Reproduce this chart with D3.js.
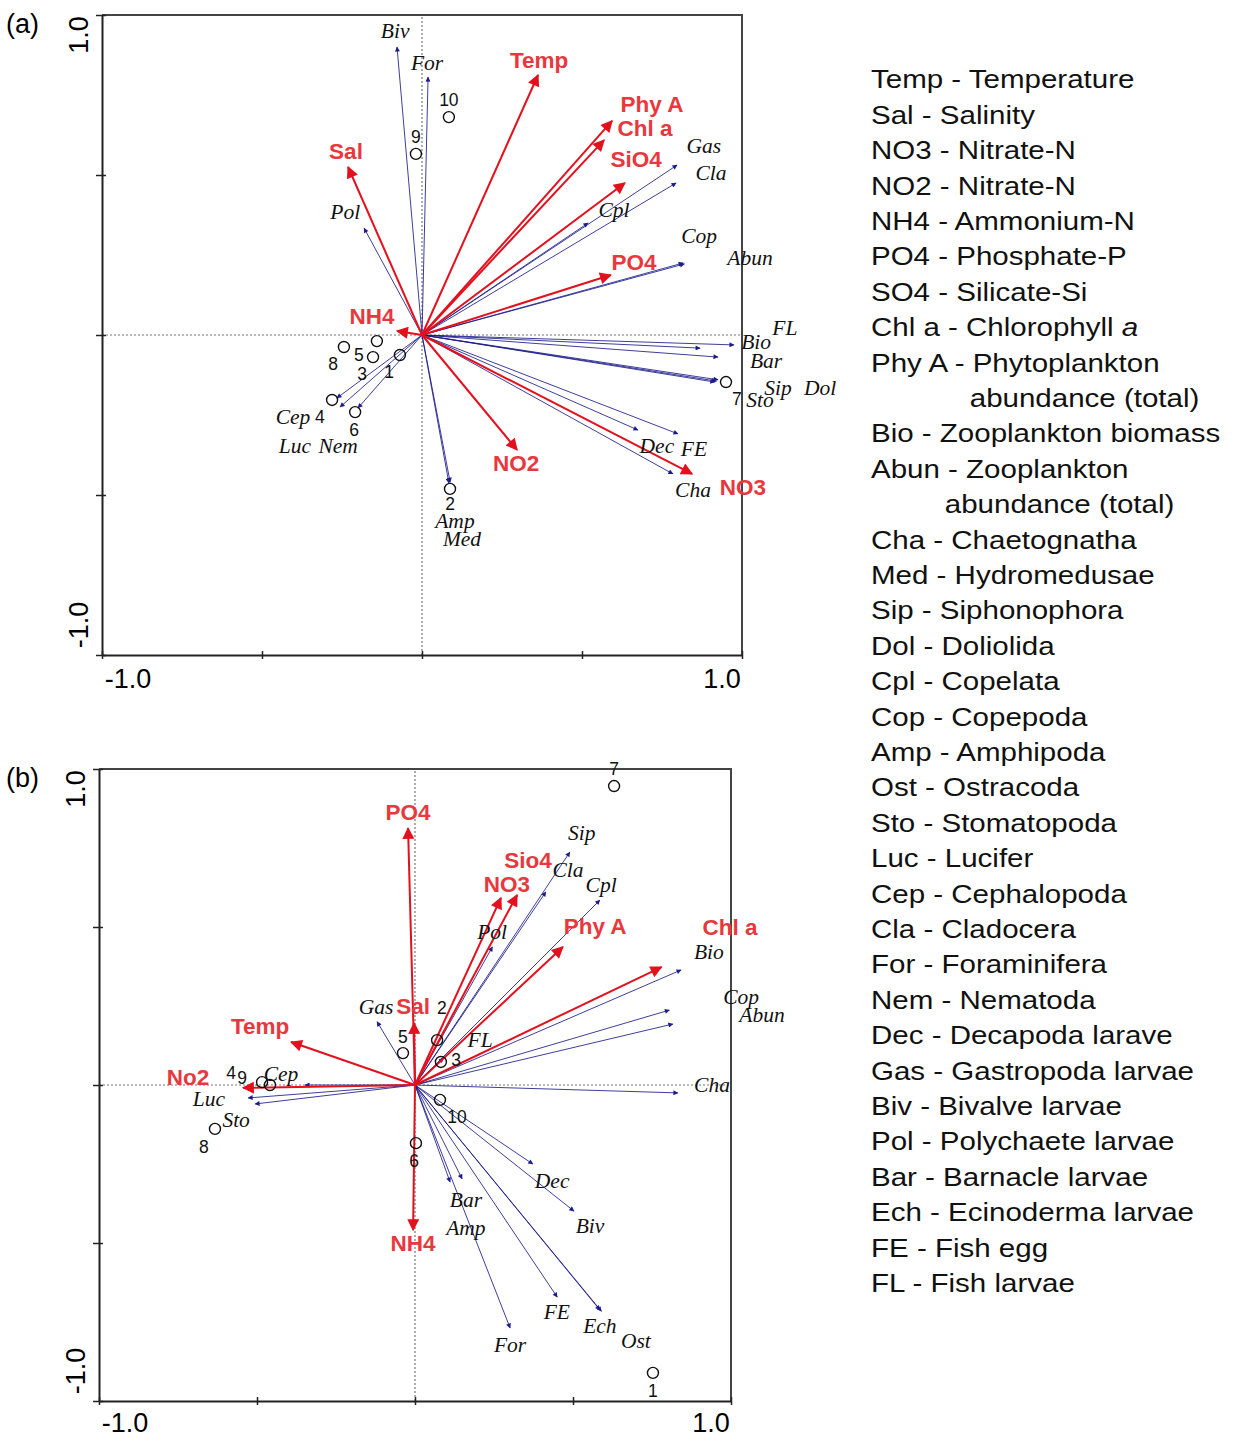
<!DOCTYPE html>
<html>
<head>
<meta charset="utf-8">
<script src="https://cdn.jsdelivr.net/npm/d3@7"></script>
<style>
  body { margin: 0; background: #fff; }
  svg { display: block; }
</style>
</head>
<body>
<svg id="chart" width="1234" height="1438"></svg>
<script>
// ---- panel (a) ----
// [name, x, y, labelX, labelY]  (CCA axis units)
var envA = [
  ["Temp", 0.3625, 0.8125, 0.366, 0.859],
  ["Phy A", 0.594, 0.669, 0.719, 0.719],
  ["Chl a", 0.569, 0.609, 0.697, 0.644],
  ["SiO4", 0.634, 0.475, 0.669, 0.55],
  ["PO4", 0.59, 0.1875, 0.6625, 0.228],
  ["Sal", -0.231, 0.525, -0.2375, 0.575],
  ["NH4", -0.078, 0.0125, -0.156, 0.059],
  ["NO2", 0.297, -0.359, 0.294, -0.403],
  ["NO3", 0.844, -0.434, 1.003, -0.478]
];
var speciesA = [
  ["Biv", -0.078, 0.9, -0.084, 0.95],
  ["For", 0.019, 0.806, 0.016, 0.85],
  ["Pol", -0.181, 0.334, -0.24, 0.384],
  ["Gas", 0.797, 0.531, 0.881, 0.591],
  ["Cla", 0.794, 0.475, 0.903, 0.506],
  ["Cpl", 0.519, 0.35, 0.6, 0.391],
  ["Cop", 0.816, 0.225, 0.866, 0.309],
  ["Abun", 0.82, 0.222, 1.025, 0.241],
  ["Bio", 0.975, -0.031, 1.044, -0.022],
  ["FL", 0.869, -0.041, 1.134, 0.022],
  ["Bar", 0.925, -0.069, 1.075, -0.081],
  ["Sto", 0.915, -0.147, 1.056, -0.203],
  ["Sip", 0.92, -0.144, 1.1125, -0.166],
  ["Dol", 0.925, -0.14, 1.244, -0.166],
  ["Dec", 0.675, -0.297, 0.734, -0.347],
  ["FE", 0.8, -0.309, 0.85, -0.356],
  ["Cha", 0.784, -0.434, 0.847, -0.484],
  ["Amp", 0.084, -0.4625, 0.103, -0.581],
  ["Med", 0.088, -0.46, 0.125, -0.637],
  ["Cep", -0.266, -0.197, -0.403, -0.256],
  ["Luc", -0.256, -0.225, -0.397, -0.347],
  ["Nem", -0.2, -0.228, -0.262, -0.347]
];
var sitesA = [
  ["1", -0.069, -0.0625, -0.103, -0.116],
  ["2", 0.0875, -0.481, 0.0875, -0.528],
  ["3", -0.153, -0.069, -0.1875, -0.122],
  ["4", -0.281, -0.203, -0.319, -0.256],
  ["5", -0.141, -0.019, -0.197, -0.0625],
  ["6", -0.209, -0.241, -0.2125, -0.297],
  ["7", 0.95, -0.147, 0.984, -0.2],
  ["8", -0.244, -0.0375, -0.278, -0.091],
  ["9", -0.019, 0.566, -0.019, 0.619],
  ["10", 0.084, 0.681, 0.084, 0.734]
];

// ---- panel (b) ----
var envB = [
  ["PO4", -0.022, 0.813, -0.022, 0.861],
  ["Sal", -0.003, 0.196, -0.006, 0.247],
  ["Temp", -0.392, 0.136, -0.49, 0.184],
  ["No2", -0.544, -0.009, -0.718, 0.025],
  ["NH4", -0.006, -0.459, -0.006, -0.503],
  ["Sio4", 0.323, 0.601, 0.358, 0.712],
  ["NO3", 0.272, 0.592, 0.291, 0.636],
  ["Phy A", 0.468, 0.437, 0.57, 0.503],
  ["Chl a", 0.78, 0.373, 0.997, 0.497]
];
var speciesB = [
  ["Sip", 0.49, 0.737, 0.528, 0.797],
  ["Cla", 0.414, 0.611, 0.484, 0.68],
  ["Cpl", 0.585, 0.585, 0.589, 0.633],
  ["Pol", 0.245, 0.437, 0.244, 0.484],
  ["Bio", 0.842, 0.364, 0.93, 0.421],
  ["Cop", 0.805, 0.237, 1.032, 0.278],
  ["Abun", 0.816, 0.193, 1.098, 0.222],
  ["FL", 0.09, 0.085, 0.206, 0.142],
  ["Gas", -0.12, 0.2, -0.123, 0.247],
  ["Cha", 0.832, -0.025, 0.94, 0],
  ["Cep", -0.348, 0, -0.424, 0.035],
  ["Luc", -0.528, -0.041, -0.652, -0.044],
  ["Sto", -0.506, -0.06, -0.566, -0.111],
  ["Dec", 0.373, -0.25, 0.434, -0.304],
  ["Biv", 0.503, -0.399, 0.554, -0.446],
  ["Bar", 0.111, -0.307, 0.161, -0.364],
  ["Amp", 0.149, -0.297, 0.161, -0.452],
  ["For", 0.301, -0.769, 0.301, -0.823],
  ["FE", 0.45, -0.671, 0.449, -0.718],
  ["Ech", 0.585, -0.712, 0.585, -0.763],
  ["Ost", 0.59, -0.716, 0.699, -0.81]
];
var sitesB = [
  ["1", 0.753, -0.911, 0.753, -0.968],
  ["2", 0.07, 0.142, 0.085, 0.244],
  ["3", 0.082, 0.073, 0.13, 0.079],
  ["4", -0.484, 0.009, -0.582, 0.038],
  ["5", -0.038, 0.101, -0.038, 0.152],
  ["6", 0.003, -0.184, -0.003, -0.241],
  ["7", 0.63, 0.946, 0.63, 1.0],
  ["8", -0.633, -0.139, -0.668, -0.196],
  ["9", -0.459, 0, -0.547, 0.022],
  ["10", 0.079, -0.047, 0.133, -0.101]
];

var axisTicks = [-1, -0.5, 0, 0.5, 1];
var axisLabels = ["-1.0", "1.0"];

var legendLines = [
  "Temp - Temperature", "Sal - Salinity", "NO3 - Nitrate-N", "NO2 - Nitrate-N",
  "NH4 - Ammonium-N", "PO4 - Phosphate-P", "SO4 - Silicate-Si",
  "Chl a - Chlorophyll |a", "Phy A - Phytoplankton", ">>abundance (total)",
  "Bio - Zooplankton biomass", "Abun - Zooplankton", ">abundance (total)",
  "Cha - Chaetognatha", "Med - Hydromedusae", "Sip - Siphonophora",
  "Dol - Doliolida", "Cpl - Copelata", "Cop - Copepoda", "Amp - Amphipoda",
  "Ost - Ostracoda", "Sto - Stomatopoda", "Luc - Lucifer", "Cep - Cephalopoda",
  "Cla - Cladocera", "For - Foraminifera", "Nem - Nematoda",
  "Dec - Decapoda larave", "Gas - Gastropoda larvae", "Biv - Bivalve larvae",
  "Pol - Polychaete larvae", "Bar - Barnacle larvae", "Ech - Ecinoderma larvae",
  "FE - Fish egg", "FL - Fish larvae"
];

var svg = d3.select("#chart");
var RED = "#e3101e", BLUE = "#1c1c8a";

var defs = svg.append("defs");
defs.append("marker").attr("id", "headRed")
  .attr("viewBox", "0 0 10 10").attr("refX", 9).attr("refY", 5)
  .attr("markerWidth", 17).attr("markerHeight", 12).attr("markerUnits", "userSpaceOnUse")
  .attr("orient", "auto")
  .append("path").attr("d", "M0,0 L10,5 L0,10 z").attr("fill", RED);
defs.append("marker").attr("id", "headBlue")
  .attr("viewBox", "0 0 10 10").attr("refX", 9).attr("refY", 5)
  .attr("markerWidth", 8).attr("markerHeight", 5).attr("markerUnits", "userSpaceOnUse")
  .attr("orient", "auto")
  .append("path").attr("d", "M0,0 L10,5 L0,10 z").attr("fill", BLUE);

function drawPanel(tag, box, env, species, sites) {
  var x = d3.scaleLinear().domain([-1, 1]).range([box.left, box.right]);
  var y = d3.scaleLinear().domain([-1, 1]).range([box.bottom, box.top]);
  var g = svg.append("g");

  // top & right frame
  g.append("path")
    .attr("d", "M" + x(-1) + "," + y(1) + "H" + x(1) + "V" + y(-1))
    .attr("fill", "none").attr("stroke", "#444").attr("stroke-width", 2);

  // zero lines
  g.append("line").attr("x1", x(-1)).attr("x2", x(1)).attr("y1", y(0)).attr("y2", y(0))
    .attr("stroke", "#777").attr("stroke-width", 1.2).attr("stroke-dasharray", "2,2");
  g.append("line").attr("x1", x(0)).attr("x2", x(0)).attr("y1", y(-1)).attr("y2", y(1))
    .attr("stroke", "#777").attr("stroke-width", 1.2).attr("stroke-dasharray", "2,2");

  // axes
  var ax = g.append("g").attr("transform", "translate(0," + y(-1) + ")")
    .call(d3.axisBottom(x).tickValues(axisTicks).tickFormat("").tickSize(4).tickSizeOuter(0));
  ax.selectAll(".tick line").attr("y1", -4);
  var ay = g.append("g").attr("transform", "translate(" + x(-1) + ",0)")
    .call(d3.axisLeft(y).tickValues(axisTicks).tickFormat("").tickSize(6).tickSizeOuter(0));
  ay.selectAll(".tick line").attr("x1", 4);
  g.selectAll(".domain").attr("stroke", "#222").attr("stroke-width", 2);
  g.selectAll(".tick line").attr("stroke", "#222").attr("stroke-width", 1.5);

  var tickFont = "Liberation Sans, Arial, sans-serif";
  var xLabY = Math.min(y(-1) + 33, 1432);
  g.append("text").text(axisLabels[0]).attr("x", x(-1) + 26).attr("y", xLabY)
    .attr("text-anchor", "middle").attr("font-family", tickFont).attr("font-size", 27);
  g.append("text").text(axisLabels[1]).attr("x", x(1) - 20).attr("y", xLabY)
    .attr("text-anchor", "middle").attr("font-family", tickFont).attr("font-size", 27);
  g.append("text").text(axisLabels[1])
    .attr("transform", "translate(" + (x(-1) - 14) + "," + (y(1) + 20) + ") rotate(-90)")
    .attr("text-anchor", "middle").attr("font-family", tickFont).attr("font-size", 27);
  g.append("text").text(axisLabels[0])
    .attr("transform", "translate(" + (x(-1) - 14) + "," + (y(-1) - 30) + ") rotate(-90)")
    .attr("text-anchor", "middle").attr("font-family", tickFont).attr("font-size", 27);

  g.append("text").text(tag).attr("x", 6).attr("y", y(1) + 18)
    .attr("font-family", tickFont).attr("font-size", 27);

  // species arrows (blue)
  g.selectAll(".sp").data(species).enter().append("line")
    .attr("x1", x(0)).attr("y1", y(0))
    .attr("x2", function(d) { return x(d[1]); })
    .attr("y2", function(d) { return y(d[2]); })
    .attr("stroke", BLUE).attr("stroke-width", 1).attr("stroke-opacity", 0.85)
    .attr("marker-end", "url(#headBlue)");

  // env arrows (red)
  g.selectAll(".env").data(env).enter().append("line")
    .attr("x1", x(0)).attr("y1", y(0))
    .attr("x2", function(d) { return x(d[1]); })
    .attr("y2", function(d) { return y(d[2]); })
    .attr("stroke", RED).attr("stroke-width", 2)
    .attr("marker-end", "url(#headRed)");

  // sites
  g.selectAll(".site").data(sites).enter().append("circle")
    .attr("cx", function(d) { return x(d[1]); })
    .attr("cy", function(d) { return y(d[2]); })
    .attr("r", 5.5).attr("fill", "none").attr("stroke", "#111").attr("stroke-width", 1.4);
  g.selectAll(".siteLab").data(sites).enter().append("text")
    .text(function(d) { return d[0]; })
    .attr("x", function(d) { return x(d[3]); })
    .attr("y", function(d) { return y(d[4]); })
    .attr("text-anchor", "middle").attr("dominant-baseline", "central")
    .attr("font-family", tickFont).attr("font-size", 17.5).attr("fill", "#111");

  // species labels
  g.selectAll(".spLab").data(species).enter().append("text")
    .text(function(d) { return d[0]; })
    .attr("x", function(d) { return x(d[3]); })
    .attr("y", function(d) { return y(d[4]); })
    .attr("text-anchor", "middle").attr("dominant-baseline", "central")
    .attr("font-family", "Liberation Serif, Times New Roman, serif")
    .attr("font-style", "italic").attr("font-size", 21.5).attr("fill", "#111");

  // env labels
  g.selectAll(".envLab").data(env).enter().append("text")
    .text(function(d) { return d[0]; })
    .attr("x", function(d) { return x(d[3]); })
    .attr("y", function(d) { return y(d[4]); })
    .attr("text-anchor", "middle").attr("dominant-baseline", "central")
    .attr("font-family", tickFont).attr("font-weight", "bold")
    .attr("font-size", 22.5).attr("fill", "#e8383d");
}

drawPanel("(a)", {left: 102, right: 742, top: 15, bottom: 655}, envA, speciesA, sitesA);
drawPanel("(b)", {left: 99, right: 731, top: 769, bottom: 1401}, envB, speciesB, sitesB);

// legend (glyphs in the original are slightly wide, so stretch horizontally)
var legend = svg.append("g").attr("transform", "translate(871,0) scale(1.135,1)")
  .attr("font-family", "Liberation Sans, Arial, sans-serif")
  .attr("font-size", 26).attr("fill", "#111");
legendLines.forEach(function(line, i) {
  var indent = 0;
  if (line.indexOf(">>") === 0) { indent = 87; line = line.slice(2); }
  else if (line.indexOf(">") === 0) { indent = 65; line = line.slice(1); }
  var t = legend.append("text").attr("x", indent).attr("y", 79 + i * 35.4)
    .attr("dominant-baseline", "central");
  var parts = line.split("|");
  t.append("tspan").text(parts[0]);
  if (parts[1]) t.append("tspan").attr("font-style", "italic").text(parts[1]);
});
</script>
</body>
</html>
